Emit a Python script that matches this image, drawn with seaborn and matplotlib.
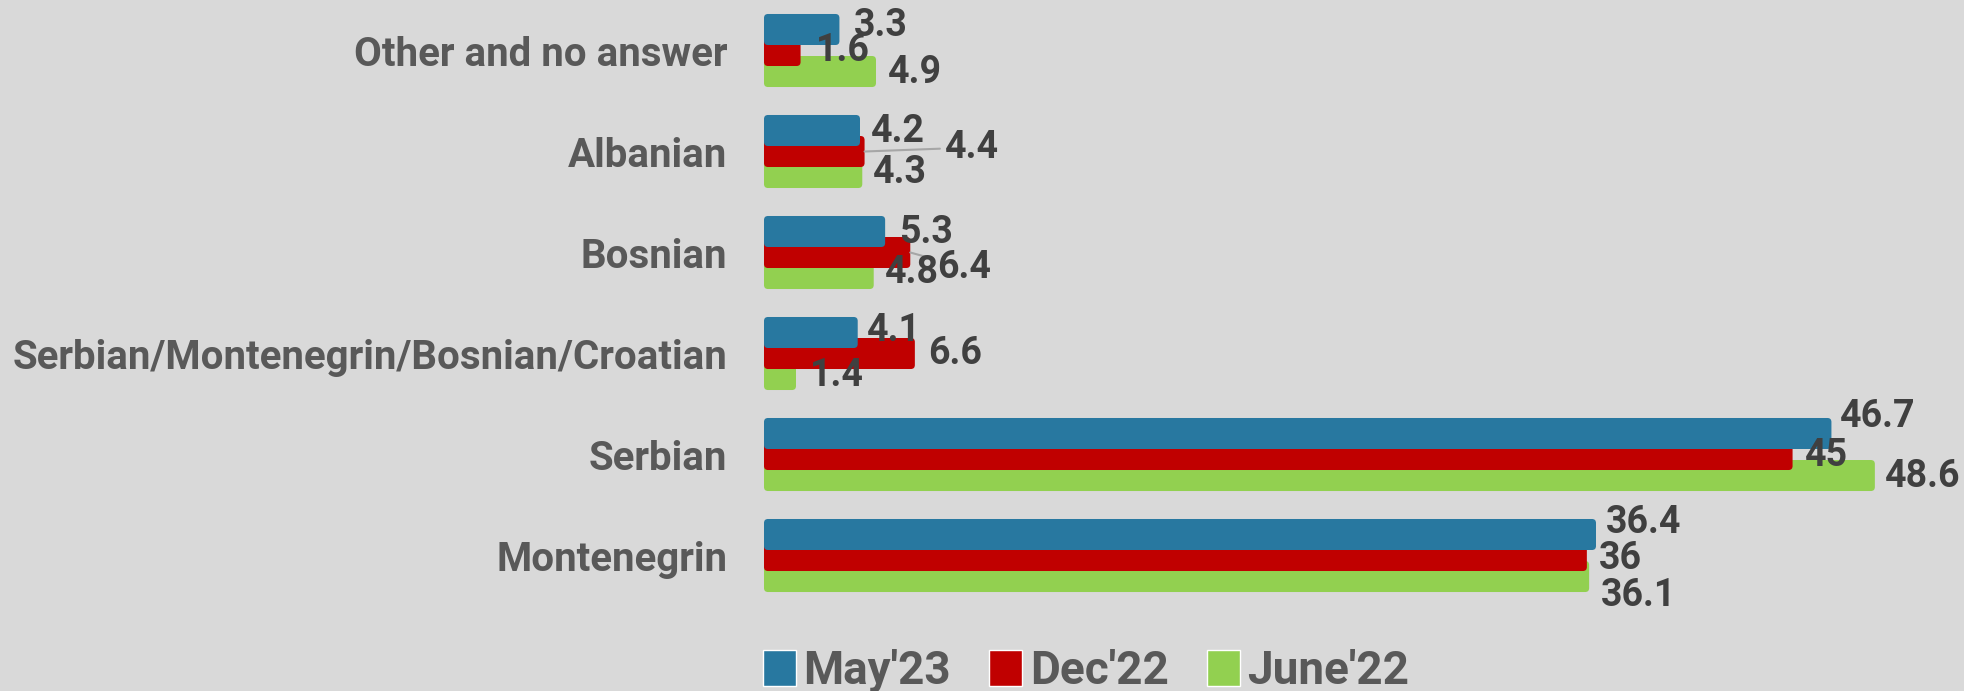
import pandas as pd
import matplotlib
matplotlib.use("Agg")
import matplotlib.pyplot as plt
from matplotlib.patches import FancyBboxPatch, Patch
import seaborn as sns

# ---- data ----
categories = ["Other and no answer", "Albanian", "Bosnian",
              "Serbian/Montenegrin/Bosnian/Croatian", "Serbian", "Montenegrin"]
waves = ["May'23", "Dec'22", "June'22"]
may23 = [3.3, 4.2, 5.3, 4.1, 46.7, 36.4]
dec22 = [1.6, 4.4, 6.4, 6.6, 45, 36]
june22 = [4.9, 4.3, 4.8, 1.4, 48.6, 36.1]

values = {"May'23": may23, "Dec'22": dec22, "June'22": june22}
colors = {"May'23": "#2878A0", "Dec'22": "#C00000", "June'22": "#92D050"}
BG = "#D9D9D9"

sns.set_style("white")
plt.rcParams["font.family"] = ["Roboto", "DejaVu Sans"]
plt.rcParams["font.weight"] = "bold"

rows = []
for w in waves:
    for i, (c, v) in enumerate(zip(categories, values[w])):
        rows.append({"category": c, "idx": i, "wave": w, "value": v})
df = pd.DataFrame(rows)

# overlapping bars, like the original office chart
BAR_H = 0.307
SHIFT = {"May'23": -0.208, "Dec'22": 0.0, "June'22": 0.208}

fig = plt.figure(figsize=(19.64, 6.91), dpi=100, facecolor=BG)
ax = fig.add_axes([0.389, 0.123, 0.611, 0.877])
ax.set_facecolor(BG)

for w in ["June'22", "Dec'22", "May'23"]:
    sub = df[df["wave"] == w]
    sns.barplot(x=sub["value"], y=sub["idx"] + SHIFT[w], orient="h",
                native_scale=True, width=BAR_H, color=colors[w],
                saturation=1, errorbar=None, linewidth=0, ax=ax)

ax.set_xlim(0, 52.5)
ax.set_ylim(5.5, -0.5)

# rounded bar corners
rx = 4 / (1200 / 52.5)
asp = (1200 / 52.5) / 101
for p in list(ax.patches):
    x0, y0, wd, ht = p.get_x(), p.get_y(), p.get_width(), p.get_height()
    fc = p.get_facecolor()
    z = p.get_zorder()
    p.remove()
    ax.add_patch(FancyBboxPatch((x0, y0), wd, ht,
                                boxstyle=f"round,pad=0,rounding_size={rx}",
                                mutation_aspect=asp, fc=fc, lw=0, zorder=z))

# value labels (offsets in pixels: right, down)
offsets = {
    "May'23": [(14, -4), (11, 1), (14, 1), (9, -2), (8, -17), (10, -12)],
    "Dec'22": [(15, 0), (80, -4), (27, 15), (13, 0), (12, 1), (12, 3)],
    "June'22": [(12, 1), (11, 0), (11, -1), (14, 1), (10, 1), (12, 19)],
}
leaders = {("Dec'22", 1), ("Dec'22", 2)}

for w in waves:
    for i, v in enumerate(values[w]):
        dx, dy = offsets[w][i]
        kw = {}
        if (w, i) in leaders:
            kw["arrowprops"] = dict(arrowstyle="-", color="#A6A6A6", lw=1.5,
                                    shrinkA=1, shrinkB=0)
        ax.annotate(f"{v:g}", xy=(v, i + SHIFT[w]), xytext=(dx, -dy),
                    textcoords="offset pixels", ha="left", va="center",
                    fontsize=27, fontweight="bold", color="#404040",
                    zorder=5, **kw)

ax.set_yticks(range(len(categories)))
ax.set_yticklabels(categories, fontsize=29, fontweight="bold", color="#595959")
ax.tick_params(axis="y", length=0, pad=26.6)
ax.set_xticks([])
ax.set_xlabel("")
ax.set_ylabel("")
for s in ax.spines.values():
    s.set_visible(False)

handles = [Patch(facecolor=colors[w], label=w) for w in waves]
fig.legend(handles=handles, loc="center", bbox_to_anchor=(0.553, 0.029),
           ncol=3, frameon=False, prop={"size": 33, "weight": "bold"},
           labelcolor="#595959", handlelength=0.72, handleheight=0.85,
           handletextpad=0.17, columnspacing=0.83, borderpad=0)

fig.savefig("out.png", dpi=100, facecolor=BG)
